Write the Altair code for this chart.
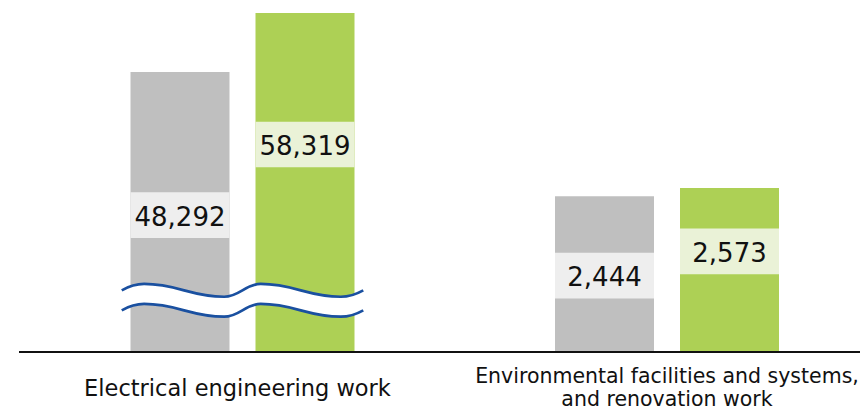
import altair as alt
import pandas as pd

# ---------------- data ----------------
categories = [
    "Electrical engineering work",
    "Environmental facilities and systems, and renovation work",
]
category_labels = [
    "Electrical engineering work",
    "Environmental facilities and systems,\nand renovation work",
]
series = ["Previous year", "Current year"]
bar_category = [categories[0], categories[0], categories[1], categories[1]]
bar_series = [series[0], series[1], series[0], series[1]]
values = [48292, 58319, 2444, 2573]
# heights as drawn: the left pair sits on a broken (wavy) axis
drawn_heights = [4404, 5335, 2444, 2573]
break_at = 800  # level of the axis break on the left pair

# ---------------- layout ----------------
W, H = 841, 343
DMAX = 5415
PPU = H / DMAX
BOX_HALF = 22.8 / PPU
GRAY, GREEN = "#BFBFBF", "#ADD055"
GRAY_BOX, GREEN_BOX = "#EEEEEE", "#EAF2D7"
BLUE = "#1A50A0"
FONT = "DejaVu Sans"

df = pd.DataFrame({
    "category": bar_category,
    "series": bar_series,
    "value": values,
    "drawn": drawn_heights,
})

x_enc = alt.X(
    "category:N",
    scale=alt.Scale(domain=categories, range=[11.25, 860.25], paddingInner=0, paddingOuter=0),
    axis=None,
)
xo_enc = alt.XOffset(
    "series:N",
    scale=alt.Scale(domain=series, paddingInner=0.208, paddingOuter=0.802),
)
y_scale = alt.Scale(domain=[0, DMAX], nice=False, zero=True)
is_prev = f"datum.series == '{series[0]}'"

base = alt.Chart(df)

bars = base.mark_bar().encode(
    x=x_enc,
    xOffset=xo_enc,
    y=alt.Y("drawn:Q", scale=y_scale, axis=None),
    color=alt.condition(is_prev, alt.value(GRAY), alt.value(GREEN)),
)

lab = base.transform_calculate(
    ly=f"datum.drawn * ({is_prev} ? 0.487 : 0.611)"
).transform_calculate(
    ly0=f"datum.ly - {BOX_HALF}", ly1=f"datum.ly + {BOX_HALF}"
)

boxes = lab.mark_bar().encode(
    x=x_enc,
    xOffset=xo_enc,
    y=alt.Y("ly0:Q", scale=y_scale, axis=None),
    y2="ly1:Q",
    color=alt.condition(is_prev, alt.value(GRAY_BOX), alt.value(GREEN_BOX)),
)

texts = lab.mark_text(font=FONT, fontSize=26, baseline="middle", dy=2.5, color="#111111").encode(
    x=x_enc,
    xOffset=xo_enc,
    y=alt.Y("ly:Q", scale=y_scale, axis=None),
    text=alt.Text("value:Q", format=","),
)

# ---------------- wavy axis break (decorative symbol) ----------------
R = 120.75
y0, a = 10.0, 6.4


def wave(off):
    # cubic segments (p0, c1, c2, p1) in px relative to symbol centre
    s = (-120.75, off)
    p1 = (-98.4, off - a)
    t1 = (-18.4, off + a)
    p2 = (18.25, off - a)
    t2 = (98.25, off + a)
    e = (120.75, off)
    segs = []
    segs.append((s, (s[0] + 8, off - 0.7 * a), (p1[0] - 9, off - a), p1))
    d = t1[0] - p1[0]
    segs.append((p1, (p1[0] + 0.42 * d, p1[1]), (t1[0] - 0.42 * d, t1[1]), t1))
    d = p2[0] - t1[0]
    segs.append((t1, (t1[0] + 0.42 * d, t1[1]), (p2[0] - 0.42 * d, p2[1]), p2))
    d = t2[0] - p2[0]
    segs.append((p2, (p2[0] + 0.42 * d, p2[1]), (t2[0] - 0.42 * d, t2[1]), t2))
    segs.append((t2, (t2[0] + 9, off + a), (e[0] - 8, off + 0.7 * a), e))
    return segs


def pt(p):
    return f"{p[0] / R:.4f},{p[1] / R:.4f}"


def path_of(segs, move=True):
    out = f"M{pt(segs[0][0])}" if move else f"L{pt(segs[0][0])}"
    for _, c1, c2, p in segs:
        out += f"C{pt(c1)} {pt(c2)} {pt(p)}"
    return out


def reverse(segs):
    return [(p1, c2, c1, p0) for (p0, c1, c2, p1) in reversed(segs)]


top = wave(-y0)
bot = wave(y0)
fill_path = path_of(top) + path_of(reverse(bot), move=False) + "Z"
stroke_path = path_of(top) + path_of(bot)
SIZE = (2 * R) ** 2

brk_df = pd.DataFrame({"category": [categories[0]], "at": [break_at]})
brk_fill = alt.Chart(brk_df).mark_point(
    shape=fill_path, size=SIZE, filled=True, color="white", opacity=1, strokeWidth=0
).encode(x=x_enc, y=alt.Y("at:Q", scale=y_scale, axis=None))
brk_line = alt.Chart(brk_df).mark_point(
    shape=stroke_path, size=SIZE, filled=False, color=BLUE, opacity=1, strokeWidth=2.7
).encode(x=x_enc, y=alt.Y("at:Q", scale=y_scale, axis=None))

# ---------------- baseline ----------------
baseline = alt.Chart(pd.DataFrame({"k": [0]})).mark_rule(color="#111111", strokeWidth=2.2).encode(
    x=alt.value(0), x2=alt.value(W), y=alt.value(H + 1)
)

# ---------------- category labels ----------------
lab1 = alt.Chart(pd.DataFrame({"category": [categories[0]], "label": [category_labels[0]]})).mark_text(
    font=FONT, fontSize=22.5, baseline="alphabetic", color="#111111", dx=-5
).encode(x=x_enc, y=alt.value(388), text="label:N")

lab2 = alt.Chart(pd.DataFrame({"category": [categories[1]], "label": [category_labels[1]]})).mark_text(
    font=FONT, fontSize=20.5, baseline="alphabetic", color="#111111", lineBreak="\n", lineHeight=22.5
).encode(x=x_enc, y=alt.value(375), text="label:N")

chart = alt.layer(bars, boxes, texts, brk_fill, brk_line, baseline, lab1, lab2).properties(
    width=W,
    height=H,
    padding={"left": 11, "top": 0, "right": 0, "bottom": 60},
    autosize=alt.AutoSizeParams(type="none"),
).configure_view(stroke=None)

chart.save("out.html", embed_options={"renderer": "svg", "actions": False})
